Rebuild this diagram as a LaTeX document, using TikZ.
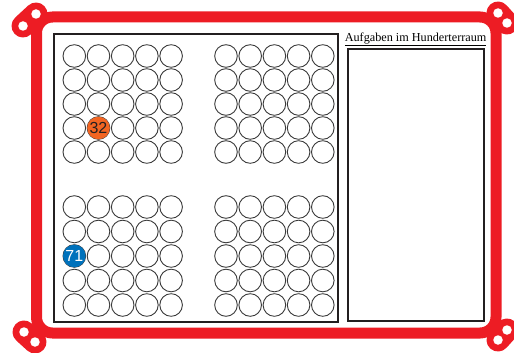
\documentclass[tikz,border=0pt]{standalone}
\usepackage{fontspec}
\setmainfont{Liberation Serif}
\newfontfamily\numfont{Liberation Sans}
\definecolor{framered}{HTML}{ED1C24}
\definecolor{cellgray}{HTML}{3A3A3A}
\definecolor{boxblack}{HTML}{231F20}
\definecolor{numorange}{HTML}{F26522}
\definecolor{numblue}{HTML}{0072BC}
\begin{document}
\begin{tikzpicture}[x=1pt,y=-1pt,
  hole/.style={circle,fill=white,inner sep=0pt,minimum size=9.5pt},
  lug/.style={framered,line width=23pt,line cap=round},
  cell/.style={circle,draw=cellgray,line width=0.9pt,inner sep=0pt,minimum size=22.6pt},
  orangecell/.style={cell,draw=none,fill=numorange,text=boxblack,font=\numfont\fontsize{16}{16}\selectfont},
  bluecell/.style={cell,draw=none,fill=numblue,text=white,font=\numfont\fontsize{16}{16}\selectfont},
  panel/.style={draw=boxblack,line width=2pt}]
\useasboundingbox (0,0) rectangle (514,353);
% red frame
\draw[framered,line width=11pt,rounded corners=16pt] (36.5,17) rectangle (496,333);
% corner lugs
\coordinate (tla) at (23,26); \coordinate (tlb) at (36,14);
\coordinate (tra) at (498,13); \coordinate (trb) at (507,23);
\coordinate (bla) at (24,332); \coordinate (blb) at (35,342);
\coordinate (bra) at (498,340); \coordinate (brb) at (507,330);
\draw[lug] (tla) -- (tlb);
\draw[lug] (tra) -- (trb);
\draw[lug] (bla) -- (blb);
\draw[lug] (bra) -- (brb);
\foreach \h in {tla,tlb,tra,trb,bla,blb,bra,brb}
  \node[hole] (hole-\h) at (\h) {};
% panels
\draw[panel] (54,34) rectangle (337.5,321.5);
\draw[panel] (347.5,49) rectangle (483.5,320.5);
\node[anchor=base,inner sep=0pt,font=\fontsize{12.2}{12}\selectfont] (title) at (415.6,41.5) {\underline{Aufgaben im Hunderterraum}};
% circle grids
\foreach \r in {1,...,5}{
  \foreach \c in {1,...,5}{
    \pgfmathsetmacro{\xl}{74.3+24.2*(\c-1)}
    \pgfmathsetmacro{\xr}{226+24.2*(\c-1)}
    \pgfmathsetmacro{\yt}{56+24*(\r-1)}
    \pgfmathsetmacro{\yb}{207+24.5*(\r-1)}
    \node[cell] (tl-\r-\c) at (\xl,\yt) {};
    \node[cell] (tr-\r-\c) at (\xr,\yt) {};
    \node[cell] (bl-\r-\c) at (\xl,\yb) {};
    \node[cell] (br-\r-\c) at (\xr,\yb) {};
  }
}
\node[orangecell] (n32) at (tl-4-2) {32};
\node[bluecell] (n71) at (bl-3-1) {71};
\end{tikzpicture}
\end{document}
